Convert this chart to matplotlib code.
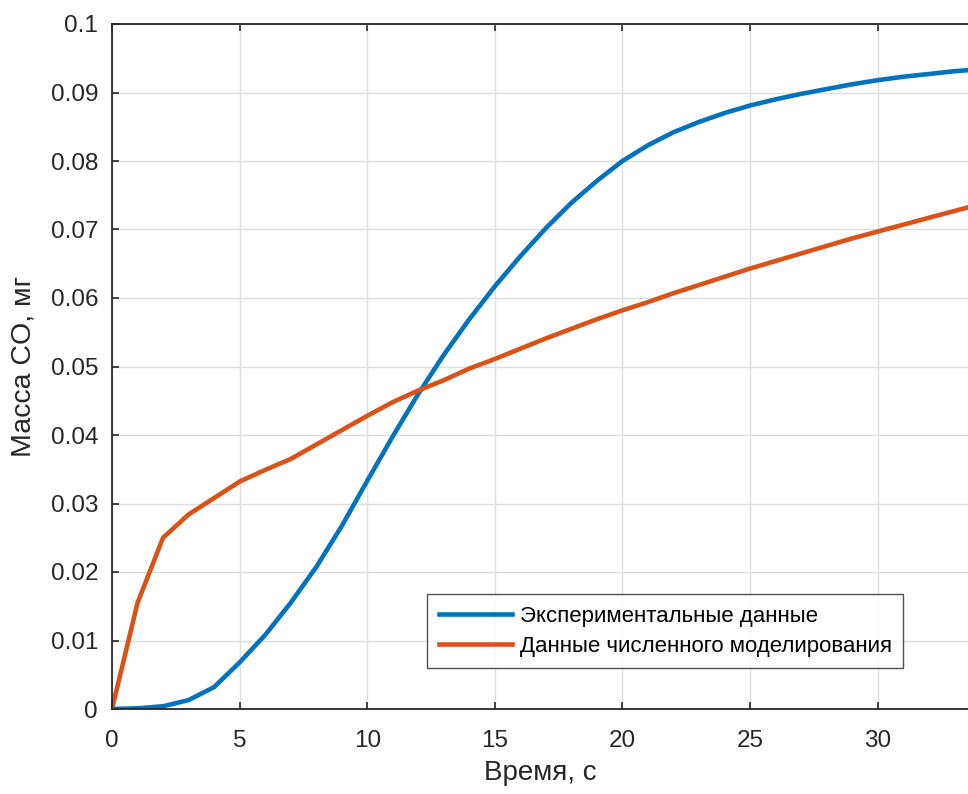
import matplotlib
matplotlib.use("Agg")
import matplotlib.pyplot as plt
from matplotlib.ticker import FixedLocator

plt.rcParams['font.family'] = ['Liberation Sans', 'DejaVu Sans']

# Time, s
t = list(range(0, 35))

# Measured CO mass, mg
co_experiment = [0.0, 0.0001, 0.0004, 0.0013, 0.0032, 0.0068, 0.0108, 0.0155, 0.0207,
                 0.0267, 0.0333, 0.0398, 0.0460, 0.0517, 0.0569, 0.0617, 0.0661, 0.0702,
                 0.0739, 0.0771, 0.0800, 0.0823, 0.0842, 0.0857, 0.0870, 0.0881, 0.0890,
                 0.0898, 0.0905, 0.0912, 0.0918, 0.0923, 0.0927, 0.0931, 0.0934]

# Simulated CO mass, mg
co_model = [0.0, 0.0155, 0.0250, 0.0284, 0.0308, 0.0332, 0.0349, 0.0365, 0.0386, 0.0407,
            0.0428, 0.0448, 0.0465, 0.0480, 0.0497, 0.0511, 0.0526, 0.0541, 0.0555, 0.0569,
            0.0582, 0.0594, 0.0607, 0.0619, 0.0631, 0.0643, 0.0654, 0.0665, 0.0676, 0.0687,
            0.0697, 0.0707, 0.0717, 0.0727, 0.0737]

series_labels = ['Экспериментальные данные', 'Данные численного моделирования']
x_ticks = [0, 5, 10, 15, 20, 25, 30]
y_ticks = [0, 0.01, 0.02, 0.03, 0.04, 0.05, 0.06, 0.07, 0.08, 0.09, 0.1]
y_tick_labels = ['0', '0.01', '0.02', '0.03', '0.04', '0.05', '0.06', '0.07', '0.08', '0.09', '0.1']

W, H = 968, 794
fig = plt.figure(figsize=(W / 100, H / 100), dpi=100)
ax = fig.add_axes([112 / W, 1 - 709 / H, 1 - 112 / W, (709 - 24) / H])

text_color = '#262626'
ax.plot(t, co_experiment, color='#0072BD', lw=3.3, label=series_labels[0], solid_joinstyle='round')
ax.plot(t, co_model, color='#D95319', lw=3.3, label=series_labels[1], solid_joinstyle='round')

ax.set_xlim(0, 33.54)
ax.set_ylim(0, 0.1)
ax.xaxis.set_major_locator(FixedLocator(x_ticks))
ax.set_yticks(y_ticks)
ax.set_yticklabels(y_tick_labels)

ax.grid(True, color='#dedede', lw=1.0)
ax.set_axisbelow(True)
ax.spines['right'].set_visible(False)
for s in ('left', 'bottom', 'top'):
    ax.spines[s].set_color(text_color)
    ax.spines[s].set_linewidth(1.3)
ax.tick_params(direction='in', length=5, width=1.2, colors=text_color,
               labelsize=17.5, top=True)
ax.tick_params(axis='y', pad=10)
ax.tick_params(axis='x', pad=15)

ax.set_xlabel('Время, с', fontsize=20, color=text_color, labelpad=6)
ax.set_ylabel('Масса CO, мг', fontsize=20.5, color=text_color, labelpad=10)

leg = ax.legend(loc='lower right', bbox_to_anchor=(903 / W, 1 - 668 / H),
                bbox_transform=fig.transFigure, fontsize=16, frameon=True,
                fancybox=False, handlelength=3.3, handletextpad=0.36,
                borderpad=0.5, labelspacing=0.42, borderaxespad=0)
leg.get_frame().set_edgecolor('#262626')
leg.get_frame().set_linewidth(1.0)
for line in leg.get_lines():
    line.set_linewidth(3.3)

fig.savefig('out.png', dpi=100)
